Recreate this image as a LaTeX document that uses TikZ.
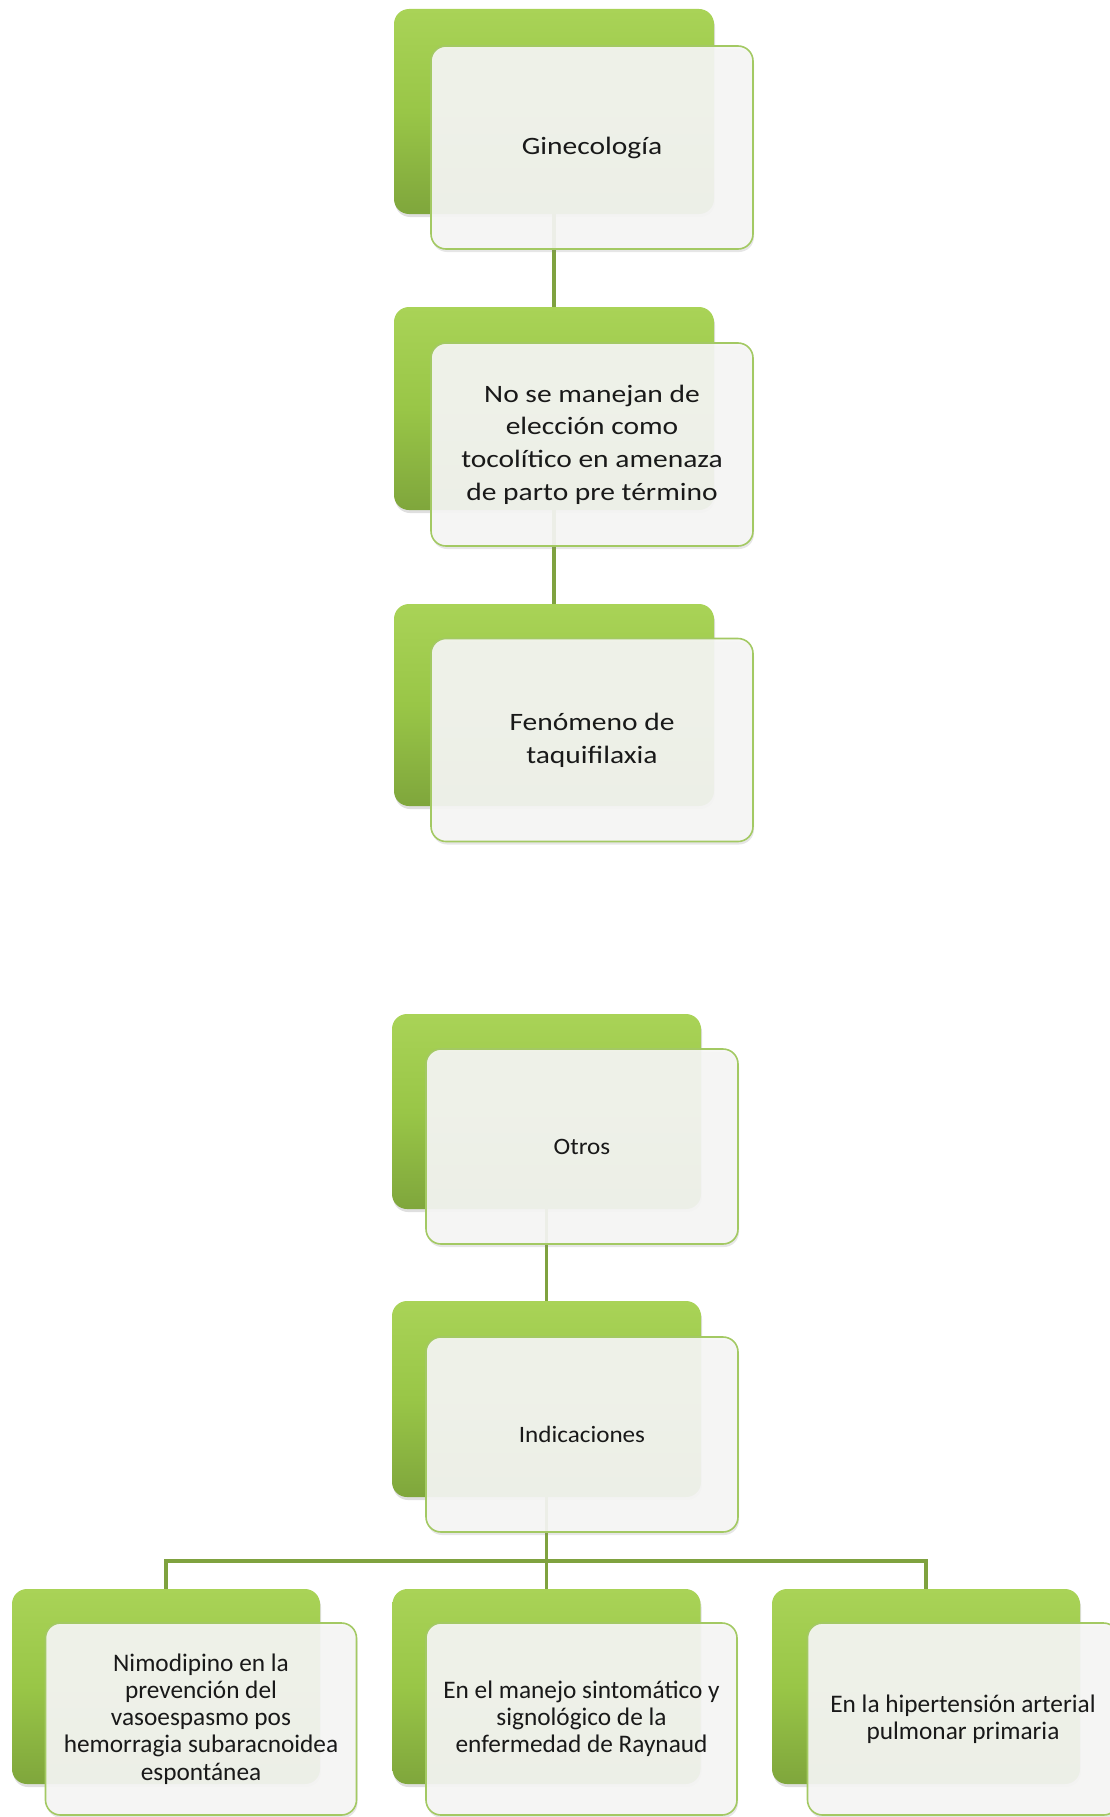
\documentclass[tikz,border=0pt]{standalone}
\usepackage{fontspec}
\setmainfont{Carlito}
\newfontfamily\wideface[FakeStretch=1.18]{Carlito}
\newfontfamily\midface[FakeStretch=1.07]{Carlito}
\usetikzlibrary{shadows}

\definecolor{leafTop}{HTML}{A9D357}
\definecolor{leafMid}{HTML}{99C647}
\definecolor{leafBot}{HTML}{7FA63C}
\definecolor{cardFill}{HTML}{F6F6F5}
\definecolor{cardLine}{HTML}{A3C963}
\definecolor{wireCol}{HTML}{7FA23F}

\begin{document}
\begin{tikzpicture}[x=1pt, y=-1pt,
  leaf/.style={rounded corners=15pt, inner sep=0pt, top color=leafTop, bottom color=leafBot, middle color=leafMid,
    drop shadow={opacity=0.25, shadow xshift=1pt, shadow yshift=-3pt}},
  card/.style={draw=cardLine, line width=1.6pt, rounded corners=15pt, fill=cardFill, fill opacity=0.92, text opacity=1,
    inner sep=0pt, align=center, text=black!90,
    drop shadow={opacity=0.2, shadow xshift=1pt, shadow yshift=-3pt}},
  bigcard/.style={card, minimum width=322pt, minimum height=203pt, font=\wideface\fontsize{25}{32.7}\selectfont},
  midcard/.style={card, minimum width=312pt, minimum height=195pt, font=\midface\fontsize{23.5}{28}\selectfont},
  lowcard/.style={card, minimum width=311pt, minimum height=192pt, font=\fontsize{25.3}{27.2}\selectfont},
  wire/.style={draw=wireCol, line width=3.5pt}]
\clip (0,0) rectangle (1110,1817);

% first chart
\node[leaf, minimum width=320pt, minimum height=205pt] (gin) at (554,111.5) {};
\node[leaf, minimum width=320pt, minimum height=203pt] (eleccion) at (554,408.5) {};
\node[leaf, minimum width=320pt, minimum height=202pt] (taqui) at (554,705) {};
\draw[wire] (gin.south) -- (eleccion.north);
\draw[wire] (eleccion.south) -- (taqui.north);
\node[bigcard] (ginT) at ([shift={(38,36)}]gin) {Ginecología};
\node[bigcard] (eleccionT) at ([shift={(38,36)}]eleccion) {No se manejan  de\\elección como\\tocolítico en amenaza\\de parto pre término};
\node[bigcard] (taquiT) at ([shift={(38,35)}]taqui) {Fenómeno de\\taquifilaxia};

% second chart
\node[leaf, minimum width=309pt, minimum height=195pt] (otros) at (546.5,1111.5) {};
\node[leaf, minimum width=309pt, minimum height=196pt] (indic) at (546.5,1399) {};
\node[leaf, minimum width=308pt, minimum height=195pt] (nimo) at (166,1686.5) {};
\node[leaf, minimum width=308pt, minimum height=195pt] (rayn) at (546.5,1686.5) {};
\node[leaf, minimum width=308pt, minimum height=195pt] (pulm) at (926,1686.5) {};
\coordinate (bus) at (546.5,1561);
\draw[wire] (otros.south) -- (indic.north);
\draw[wire] (indic.south) -- (bus);
\draw[wire] (nimo.north) |- (bus) -| (pulm.north);
\draw[wire] (bus) -- (rayn.north);
\node[midcard] (otrosT) at ([shift={(35.5,35)}]otros) {Otros};
\node[midcard] (indicT) at ([shift={(35.5,35.5)}]indic) {Indicaciones};
\node[lowcard] (nimoT) at ([shift={(35,32.5)}]nimo) {Nimodipino en la\\prevención del\\vasoespasmo pos\\hemorragia subaracnoidea\\espontánea};
\node[lowcard] (raynT) at ([shift={(35,32.5)}]rayn) {En el manejo sintomático y\\signológico de la\\enfermedad de Raynaud};
\node[lowcard] (pulmT) at ([shift={(37,32.5)}]pulm) {En la hipertensión arterial\\pulmonar  primaria};
\end{tikzpicture}
\end{document}
